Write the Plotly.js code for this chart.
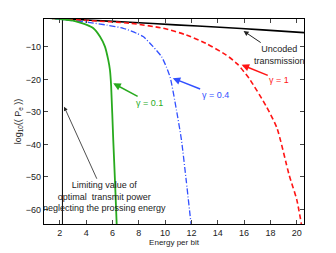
<!DOCTYPE html>
<html>
<head>
<meta charset="utf-8">
<script src="https://cdn.plot.ly/plotly-3.0.1.min.js"></script>
<style>html,body{margin:0;padding:0;background:#fff}#chart{width:336px;height:253px}</style>
</head>
<body>
<div id="chart"></div>
<script>
// Energy per bit (x) and log10(Pe) (y)
const uncodedX = [0.8, 4.0, 7.33, 10.8, 14.16, 17.4, 20.55];
const uncodedY = [-0.95, -1.7, -2.4, -3.2, -3.94, -4.75, -5.6];

const gamma01X = [0.8, 2.0, 3.0, 3.54, 4.05, 4.55, 5.05, 5.43, 5.68, 5.81, 5.9, 6.06, 6.2, 6.32];
const gamma01Y = [-1.0, -1.4, -1.9, -2.5, -3.2, -4.25, -6.8, -9.9, -14, -17.1, -22, -38.6, -52, -64.5];

const gamma04X = [0.8, 2.0, 4.3, 5.6, 6.82, 7.83, 8.33, 9.09, 9.73, 10.1, 10.4, 10.86, 11.24, 11.6, 11.97];
const gamma04Y = [-1.0, -1.5, -2.5, -3.3, -4.25, -5.8, -6.8, -9.9, -13, -16.2, -19.6, -29.4, -38.6, -51, -64.5];

const gamma1X = [0.8, 2.0, 4.3, 7.33, 9.85, 11.6, 13.1, 14.65, 15.5, 16.4, 17.7, 18.5, 19.42, 20.0, 20.35];
const gamma1Y = [-1.0, -1.4, -1.9, -2.7, -4.25, -6.3, -8.9, -12.5, -15.3, -19.8, -28.4, -35, -49.4, -57, -64.5];

const limitX = [2.2, 2.2];
const limitY = [-1.4, -64.5];

const xTicks = [2, 4, 6, 8, 10, 12, 14, 16, 18, 20];
const yTicks = [-10, -20, -30, -40, -50, -60];

const green = 'rgb(40,170,30)';
const blue = 'rgb(50,80,255)';
const red = 'rgb(255,20,20)';

const traces = [
  {x: limitX, y: limitY, mode: 'lines', line: {color: 'black', width: 1}},
  {x: uncodedX, y: uncodedY, mode: 'lines', line: {color: 'black', width: 1.6, shape: 'spline', smoothing: 0.6}},
  {x: gamma1X, y: gamma1Y, mode: 'lines', line: {color: red, width: 1.6, dash: '5px,3px', shape: 'spline', smoothing: 0.6}},
  {x: gamma04X, y: gamma04Y, mode: 'lines', line: {color: blue, width: 1.3, dash: '6px,2px,1px,2px', shape: 'spline', smoothing: 0.6}},
  {x: gamma01X, y: gamma01Y, mode: 'lines', line: {color: green, width: 1.8, shape: 'spline', smoothing: 0.6}}
];

const font = {family: 'Liberation Sans, Arial, sans-serif', size: 9, color: '#222'};

function ann(text, x, y, ax, ay, color, aw) {
  return {text: text, x: x, y: y, ax: ax, ay: ay, axref: 'x', ayref: 'y', xref: 'x', yref: 'y',
    showarrow: true, arrowhead: 2, arrowsize: 1, arrowwidth: aw, arrowcolor: color,
    font: {family: font.family, size: 9, color: color}, standoff: 0, startstandoff: 0};
}

const layout = {
  width: 336, height: 253,
  margin: {l: 44, r: 32, t: 19, b: 29},
  paper_bgcolor: '#fff', plot_bgcolor: '#fff',
  showlegend: false,
  font: font,
  xaxis: {range: [0.8, 20.55], tickvals: xTicks, ticks: 'inside', ticklen: 4, mirror: 'ticks',
    showline: true, linecolor: 'black', linewidth: 1.2, showgrid: false, zeroline: false,
    tickfont: {size: 9, color: '#222'},
    title: {text: 'Energy per bit', font: {size: 8, color: '#222'}, standoff: 2}},
  yaxis: {range: [-64.5, -1.4], tickvals: yTicks, ticktext: yTicks.map(v => '\u2212' + Math.abs(v)),
    ticks: 'inside', ticklen: 4, mirror: 'ticks',
    showline: true, linecolor: 'black', linewidth: 1.2, showgrid: false, zeroline: false,
    tickfont: {size: 9, color: '#222'},
    title: {text: 'log<sub>10</sub>(( P<sub>e</sub> ))', font: {size: 9, color: '#222'}, standoff: 2}},
  annotations: [
    ann('\u03b3 = 0.1', 6.06, -21.2, 8.84, -27.2, green, 1.5),
    ann('\u03b3 = 0.4', 10.58, -19.6, 13.8, -24.8, blue, 1.5),
    ann('\u03b3 = 1', 15.81, -15.5, 18.67, -20.2, red, 1.5),
    ann('Uncoded<br>transmission', 15.96, -5.1, 18.67, -12.5, '#222', 1),
    ann('Limiting value of<br>optimal  transmit power<br>neglecting the prossing energy', 2.33, -28.4, 5.43, -56.1, '#222', 0.8)
  ]
};

Plotly.newPlot('chart', traces, layout, {staticPlot: true, displayModeBar: false});
</script>
</body>
</html>
